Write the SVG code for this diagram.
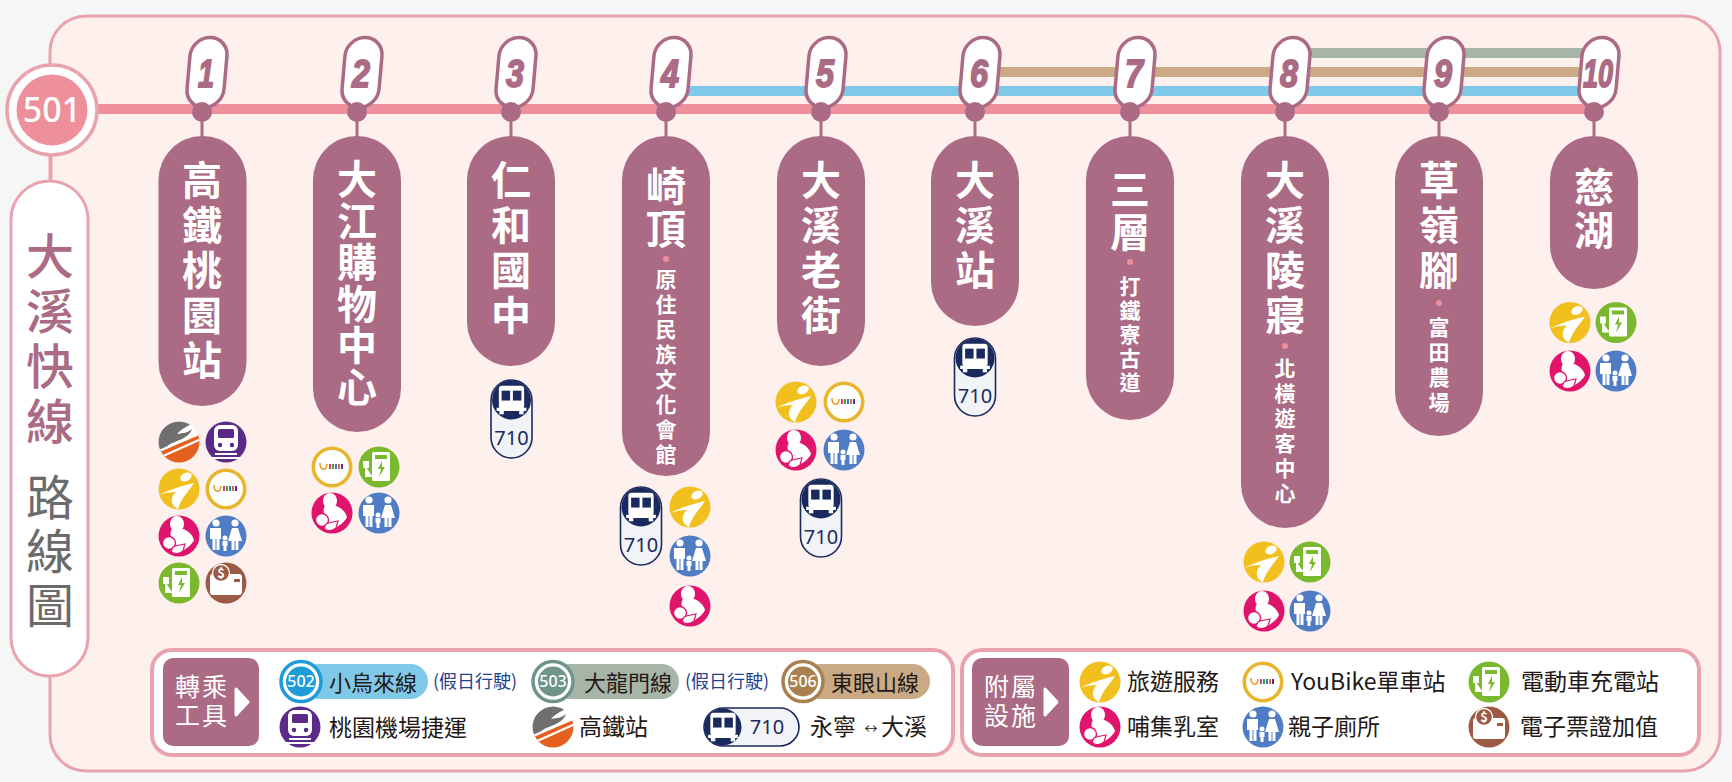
<svg xmlns="http://www.w3.org/2000/svg" width="1732" height="782" viewBox="0 0 1732 782">
<style>
text{font-family:"Noto Sans CJK TC","Noto Sans",sans-serif}
.stem{stroke:#ab6b85;stroke-width:3;fill:none}
.line{stroke-width:10;fill:none}
.badge{fill:#fff;stroke:#ab6b85;stroke-width:3.5}
.num{font-family:"Liberation Sans",sans-serif;font-weight:700;font-style:italic;font-size:39px;fill:#ab6b85;stroke:#ab6b85;stroke-width:1.8;text-anchor:middle}
.dot{fill:#ab6b85}
.pill{fill:#ab6b85}
.v{writing-mode:vertical-rl;text-orientation:upright;fill:#fff;font-weight:700}
.big{font-size:40px;letter-spacing:5px}
.small{font-size:21px;letter-spacing:4px}
.box{fill:#fff;stroke:#e9a3ae;stroke-width:4}
.hd{fill:#ab6b85}
.hdt{fill:#fff;font-size:25px;letter-spacing:2px}
.t{fill:#231815;font-size:23px;font-weight:400}
.b{fill:#1f4290;font-size:18px;font-weight:400}
.cap{fill:#f1f3f6;stroke:#1b2a5e;stroke-width:1.6}
.n710{fill:#1b2a5e;font-family:"Noto Sans",sans-serif;font-size:20px;text-anchor:middle}
.rn{fill:#fff;font-family:"Noto Sans",sans-serif;font-size:16px;font-weight:500;text-anchor:middle}
.w{fill:#fff}
</style>
<defs>
<clipPath id="cc"><circle r="20.5"/></clipPath>
<g id="i-hsr"><g clip-path="url(#cc)"><circle r="20.5" fill="#fff"/><path d="M-21,10L-21,-3C-19,-14-9,-21 2,-21L13,-18C6,-15 1,-12-2,-8C4,-9 9,-9 13,-13C11,-6 3,-3-4,0C-10,2-15,6-18,11Z" fill="#6f6f6f"/><path d="M-17,21L-17,9L21,-9L21,21Z" fill="#e5601f"/><path d="M-20,9L22,-9M-18,15L22,-3" stroke="#fff" stroke-width="2.2" fill="none"/></g></g>
<g id="i-mrt"><circle r="20.5" fill="#5b2a86"/><rect x="-12" y="-17" width="24" height="26" rx="6" class="w"/><rect x="-8" y="-13" width="16" height="9" rx="1.5" fill="#5b2a86"/><circle cx="-6" cy="3" r="2.2" fill="#5b2a86"/><circle cx="6" cy="3" r="2.2" fill="#5b2a86"/><path d="M-11,12H11M-14,16H14" stroke="#fff" stroke-width="2" fill="none"/></g>
<g id="i-info"><circle r="20.5" fill="#f2c01e"/><path d="M-20,6C-12,2-2,-2 15,-6C10,2 2,9-1,20C-6,18-8,13-7,10C-7,7-5,5-3,3C-9,3-15,4-20,6Z" class="w"/><ellipse cx="7" cy="-12" rx="6" ry="4" transform="rotate(-25 7 -12)" class="w"/></g>
<g id="i-ubike"><circle r="18.7" fill="#fff" stroke="#e8b62c" stroke-width="3.6"/><path d="M-12,-4C-12,4-5,4-5,-3" fill="none" stroke="#e8a02c" stroke-width="1.6"/><path d="M-2,-3V2" stroke="#d63f7a" stroke-width="2"/><path d="M1,-3V2" stroke="#48a040" stroke-width="2"/><path d="M4,-3V2" stroke="#2f7fc1" stroke-width="2"/><path d="M7,-3V2" stroke="#e8672c" stroke-width="2"/><path d="M10,-3V2" stroke="#5b2a86" stroke-width="2"/></g>
<g id="i-nurse"><circle r="20.5" fill="#e0146c"/><ellipse cx="-2" cy="-12" rx="7" ry="8" class="w"/><path d="M-7,-7C-10,-3-7,1-9,4L0,16C5,15 13,9 15,4C14,-1 8,-6 4,-7Z" class="w"/><circle cx="-10" cy="7" r="6.500" class="w" stroke="#e0146c" stroke-width="1.400"/><path d="M-6,11C-2,9 2,9 6,8L4,15C0,19-6,18-8,15Z" class="w" stroke="#e0146c" stroke-width="1.200"/></g>
<g id="i-fam"><circle r="20.5" fill="#4f7cc4"/><circle cx="-10" cy="-13" r="3.600" class="w"/><path d="M-16,-8H-5V3H-6.500V14H-9.500V3H-10.500V14H-13.500V3H-16Z" class="w"/><circle cx="9" cy="-13" r="3.600" class="w"/><path d="M6,-8H12L16,5H12.500V14H9.500V5H8.500V14H5.500V5H2Z" class="w"/><circle cx="-1" cy="2" r="2.500" class="w"/><path d="M-3.500,5H1.500V10H0.500V15H-2.500V10H-3.500Z" class="w"/></g>
<g id="i-ev"><circle r="20.5" fill="#7ab82e"/><rect x="-7" y="-15" width="18" height="29" rx="1.500" class="w"/><rect x="-4" y="-12" width="12" height="4" fill="#7ab82e"/><path d="M3,-6L-1,2H2L0,10L6,0H3Z" fill="#7ab82e"/><path d="M-15,-5V0H-11V-5ZM-13,0V9H-7" class="w" stroke="#fff" stroke-width="1.800" fill="#fff"/></g>
<g id="i-card"><circle r="20.5" fill="#9c5a45"/><rect x="-16" y="-9" width="32" height="21" rx="3" class="w"/><rect x="8" y="-4" width="6" height="3" rx=".6" fill="#9c5a45"/><circle cx="-5" cy="-10" r="8.500" fill="#9c5a45" stroke="#fff" stroke-width="1.300"/><text x="-5" y="-5.500" font-size="13" font-weight="700" text-anchor="middle" fill="#fff">$</text></g>
<g id="i-bus" transform="scale(1.1)"><rect x="-11.500" y="-13" width="23" height="21" rx="3" class="w"/><rect x="-9" y="-8.500" width="7.700" height="9" fill="#1b2a5e"/><rect x="1.300" y="-8.500" width="7.700" height="9" fill="#1b2a5e"/><rect x="-13.500" y="7" width="27" height="3" class="w"/><rect x="-11" y="10" width="4" height="3" class="w"/><rect x="7" y="10" width="4" height="3" class="w"/></g>
<g id="cap710"><rect x="-20.500" y="-39" width="41" height="78" rx="20.500" class="cap"/><circle cy="-19" r="19.500" fill="#1b2a5e"/><use href="#i-bus" y="-19"/><text y="26" class="n710">710</text></g>
</defs>

<rect width="1732" height="782" fill="#f6f6f6"/>
<rect id="panel" x="50" y="16" width="1670" height="755" rx="36" fill="#fdf0ed" stroke="#e9a3ae" stroke-width="3"/>

<g id="connectors">
<path d="M51,150V185" stroke="#e9a3ae" stroke-width="3" fill="none"/>
<path d="M95,109H1594" class="line" stroke="#ee8f9c"/>
<path d="M666,91H1594" class="line" stroke="#80c8e8"/>
<path d="M975,72H1594" class="line" stroke="#c9aa85"/>
<path d="M1285,53H1594" class="line" stroke="#a7b5a8"/>
<path d="M202,112V140M357,112V140M511,112V140M666,112V140M821,112V140M975,112V140M1130,112V140M1285,112V140M1439,112V140M1594,112V140" class="stem"/>
</g>

<g id="route-501"><circle cx="52" cy="110" r="45" fill="#fff" stroke="#e9a3ae" stroke-width="3.500"/><circle cx="52" cy="110" r="35.500" fill="#ee8f9c"/><text x="52" y="122" fill="#fff" font-size="34" font-weight="500" text-anchor="middle" style="font-family:'Noto Sans',sans-serif">501</text></g>
<g id="title"><rect x="11" y="181" width="77" height="495" rx="38.500" fill="#fff" stroke="#e9a3ae" stroke-width="3"/>
<text x="50" y="232" style="writing-mode:vertical-rl;text-orientation:upright;letter-spacing:7px" font-size="48" font-weight="500" fill="#ab6b85">大溪快線</text>
<text x="50" y="473" style="writing-mode:vertical-rl;text-orientation:upright;letter-spacing:6px" font-size="48" font-weight="400" fill="#6b6b6b">路線圖</text></g>

<g id="station-1"><g transform="translate(207,72.500) skewX(-5)"><rect x="-18.500" y="-35" width="37" height="70" rx="18.500" class="badge"/></g><text x="206" y="87" class="num" textLength="16" lengthAdjust="spacingAndGlyphs">1</text><circle cx="202" cy="112" r="10" class="dot"/><rect x="158.500" y="136" width="88" height="270" rx="44" class="pill"/><text x="202" y="160" class="v big">高鐵桃園站</text>
<use href="#i-hsr" x="179" y="442"/><use href="#i-mrt" x="226" y="442"/><use href="#i-info" x="179" y="489"/><use href="#i-ubike" x="226" y="489"/><use href="#i-nurse" x="179" y="536"/><use href="#i-fam" x="226" y="536"/><use href="#i-ev" x="179" y="583"/><use href="#i-card" x="226" y="583"/></g>

<g id="station-2"><g transform="translate(362,72.500) skewX(-5)"><rect x="-18.500" y="-35" width="37" height="70" rx="18.500" class="badge"/></g><text x="361" y="87" class="num" textLength="18" lengthAdjust="spacingAndGlyphs">2</text><circle cx="357" cy="112" r="10" class="dot"/><rect x="313" y="136" width="88" height="296" rx="44" class="pill"/><text x="357" y="159" class="v big" style="letter-spacing:1.500px">大江購物中心</text>
<use href="#i-ubike" x="332" y="467"/><use href="#i-ev" x="379" y="467"/><use href="#i-nurse" x="332" y="513"/><use href="#i-fam" x="379" y="513"/></g>

<g id="station-3"><g transform="translate(516,72.500) skewX(-5)"><rect x="-18.500" y="-35" width="37" height="70" rx="18.500" class="badge"/></g><text x="515" y="87" class="num" textLength="18" lengthAdjust="spacingAndGlyphs">3</text><circle cx="511" cy="112" r="10" class="dot"/><rect x="467" y="136" width="88" height="230" rx="44" class="pill"/><text x="511" y="160" class="v big">仁和國中</text>
<use href="#cap710" x="511.500" y="419"/></g>

<g id="station-4"><g transform="translate(671,72.500) skewX(-5)"><rect x="-18.500" y="-35" width="37" height="70" rx="18.500" class="badge"/></g><text x="670" y="87" class="num" textLength="18" lengthAdjust="spacingAndGlyphs">4</text><circle cx="666" cy="112" r="10" class="dot"/><rect x="622" y="136" width="88" height="340" rx="44" class="pill"/><text x="666" y="166" class="v big" style="letter-spacing:3px">崎頂</text><circle cx="666" cy="259" r="3" fill="#ee8f9c"/><text x="666" y="269" class="v small">原住民族文化會館</text>
<use href="#cap710" x="641" y="526"/><use href="#i-info" x="690" y="507"/><use href="#i-fam" x="690" y="556"/><use href="#i-nurse" x="690" y="606"/></g>

<g id="station-5"><g transform="translate(826,72.500) skewX(-5)"><rect x="-18.500" y="-35" width="37" height="70" rx="18.500" class="badge"/></g><text x="825" y="87" class="num" textLength="18" lengthAdjust="spacingAndGlyphs">5</text><circle cx="821" cy="112" r="10" class="dot"/><rect x="777" y="136" width="88" height="230" rx="44" class="pill"/><text x="821" y="160" class="v big">大溪老街</text>
<use href="#i-info" x="796" y="402"/><use href="#i-ubike" x="844" y="402"/><use href="#i-nurse" x="796" y="450"/><use href="#i-fam" x="844" y="450"/><use href="#cap710" x="821" y="518"/></g>

<g id="station-6"><g transform="translate(980,72.500) skewX(-5)"><rect x="-18.500" y="-35" width="37" height="70" rx="18.500" class="badge"/></g><text x="979" y="87" class="num" textLength="18" lengthAdjust="spacingAndGlyphs">6</text><circle cx="975" cy="112" r="10" class="dot"/><rect x="931" y="136" width="88" height="190" rx="44" class="pill"/><text x="975" y="160" class="v big">大溪站</text>
<use href="#cap710" x="975" y="377"/></g>

<g id="station-7"><g transform="translate(1135,72.500) skewX(-5)"><rect x="-18.500" y="-35" width="37" height="70" rx="18.500" class="badge"/></g><text x="1134" y="87" class="num" textLength="18" lengthAdjust="spacingAndGlyphs">7</text><circle cx="1130" cy="112" r="10" class="dot"/><rect x="1086" y="136" width="88" height="284" rx="44" class="pill"/><text x="1130" y="169" class="v big" style="letter-spacing:3px">三層</text><circle cx="1130" cy="262" r="3" fill="#ee8f9c"/><text x="1130" y="276" class="v small" style="letter-spacing:3px">打鐵寮古道</text></g>

<g id="station-8"><g transform="translate(1290,72.500) skewX(-5)"><rect x="-18.500" y="-35" width="37" height="70" rx="18.500" class="badge"/></g><text x="1289" y="87" class="num" textLength="18" lengthAdjust="spacingAndGlyphs">8</text><circle cx="1285" cy="112" r="10" class="dot"/><rect x="1241" y="136" width="88" height="392" rx="44" class="pill"/><text x="1285" y="160" class="v big">大溪陵寢</text><circle cx="1285" cy="346" r="3" fill="#ee8f9c"/><text x="1285" y="358" class="v small">北橫遊客中心</text>
<use href="#i-info" x="1264" y="562"/><use href="#i-ev" x="1310" y="562"/><use href="#i-nurse" x="1264" y="611"/><use href="#i-fam" x="1310" y="611"/></g>

<g id="station-9"><g transform="translate(1444,72.500) skewX(-5)"><rect x="-18.500" y="-35" width="37" height="70" rx="18.500" class="badge"/></g><text x="1443" y="87" class="num" textLength="18" lengthAdjust="spacingAndGlyphs">9</text><circle cx="1439" cy="112" r="10" class="dot"/><rect x="1395" y="136" width="88" height="300" rx="44" class="pill"/><text x="1439" y="160" class="v big">草嶺腳</text><circle cx="1439" cy="303" r="3" fill="#ee8f9c"/><text x="1439" y="317" class="v small">富田農場</text></g>

<g id="station-10"><g transform="translate(1599,72.500) skewX(-5)"><rect x="-18.500" y="-35" width="37" height="70" rx="18.500" class="badge"/></g><text x="1598" y="87" class="num" textLength="30" lengthAdjust="spacingAndGlyphs">10</text><circle cx="1594" cy="112" r="10" class="dot"/><rect x="1550" y="136" width="88" height="153" rx="44" class="pill"/><text x="1594" y="167" class="v big" style="letter-spacing:3px">慈湖</text>
<use href="#i-info" x="1570" y="322.500"/><use href="#i-ev" x="1616" y="322.500"/><use href="#i-nurse" x="1570" y="371"/><use href="#i-fam" x="1616" y="371"/></g>

<g id="legend-transfer">
<rect x="152" y="650" width="801" height="105" rx="20" class="box"/>
<rect x="163" y="658" width="96" height="88" rx="10" class="hd"/>
<text class="hdt"><tspan x="175" y="696">轉乘</tspan><tspan x="175" y="725">工具</tspan></text>
<path d="M236,689L248,702L236,715Z" fill="#fff" stroke="#fff" stroke-width="3" stroke-linejoin="round"/>

<rect x="301" y="664" width="127" height="35" rx="17.500" fill="#80c8e8"/><circle cx="301" cy="681.500" r="20" fill="#fff" stroke="#1f9bd8" stroke-width="3.500"/><circle cx="301" cy="681.500" r="15" fill="#1f9bd8"/><text x="301" y="687" class="rn">502</text>
<text x="329" y="691" class="t" style="font-size:22px">小烏來線</text><text x="433" y="688" class="b">(假日行駛)</text>

<rect x="553" y="664" width="126" height="35" rx="17.500" fill="#a7b5a8"/><circle cx="553" cy="681.500" r="20" fill="#fff" stroke="#6f9489" stroke-width="3.500"/><circle cx="553" cy="681.500" r="15" fill="#6f9489"/><text x="553" y="687" class="rn">503</text>
<text x="584" y="691" class="t" style="font-size:22px">大龍門線</text><text x="685" y="688" class="b">(假日行駛)</text>

<rect x="803" y="664" width="127" height="35" rx="17.500" fill="#c9aa85"/><circle cx="803" cy="681.500" r="20" fill="#fff" stroke="#a8814f" stroke-width="3.500"/><circle cx="803" cy="681.500" r="15" fill="#a8814f"/><text x="803" y="687" class="rn">506</text>
<text x="831" y="691" class="t" style="font-size:22px">東眼山線</text>

<use href="#i-mrt" x="300" y="727"/><text x="329" y="736" class="t">桃園機場捷運</text>
<use href="#i-hsr" x="553" y="727"/><text x="579" y="735" class="t">高鐵站</text>
<rect x="704" y="708" width="95" height="38" rx="19" class="cap"/><circle cx="723" cy="727" r="18.500" fill="#1b2a5e"/><use href="#i-bus" x="723" y="727"/><text x="767" y="734" class="n710">710</text>
<text x="810" y="735" class="t">永寧</text><text x="871" y="733" fill="#231815" font-size="13" text-anchor="middle">↔</text><text x="881" y="735" class="t">大溪</text>
</g>

<g id="legend-facility">
<rect x="962" y="650" width="737" height="105" rx="20" class="box"/>
<rect x="972" y="658" width="97" height="88" rx="10" class="hd"/>
<text class="hdt"><tspan x="984" y="696">附屬</tspan><tspan x="984" y="725">設施</tspan></text>
<path d="M1045,689L1057,702L1045,715Z" fill="#fff" stroke="#fff" stroke-width="3" stroke-linejoin="round"/>
<use href="#i-info" x="1100" y="682"/><text x="1127" y="690" class="t">旅遊服務</text>
<use href="#i-nurse" x="1100" y="727"/><text x="1127" y="735" class="t">哺集乳室</text>
<use href="#i-ubike" x="1263" y="682"/><text x="1291" y="690" class="t">YouBike單車站</text>
<use href="#i-fam" x="1263" y="727"/><text x="1288" y="735" class="t">親子廁所</text>
<use href="#i-ev" x="1489" y="682"/><text x="1521" y="690" class="t">電動車充電站</text>
<use href="#i-card" x="1489" y="727"/><text x="1520" y="735" class="t">電子票證加值</text>
</g>
</svg>
